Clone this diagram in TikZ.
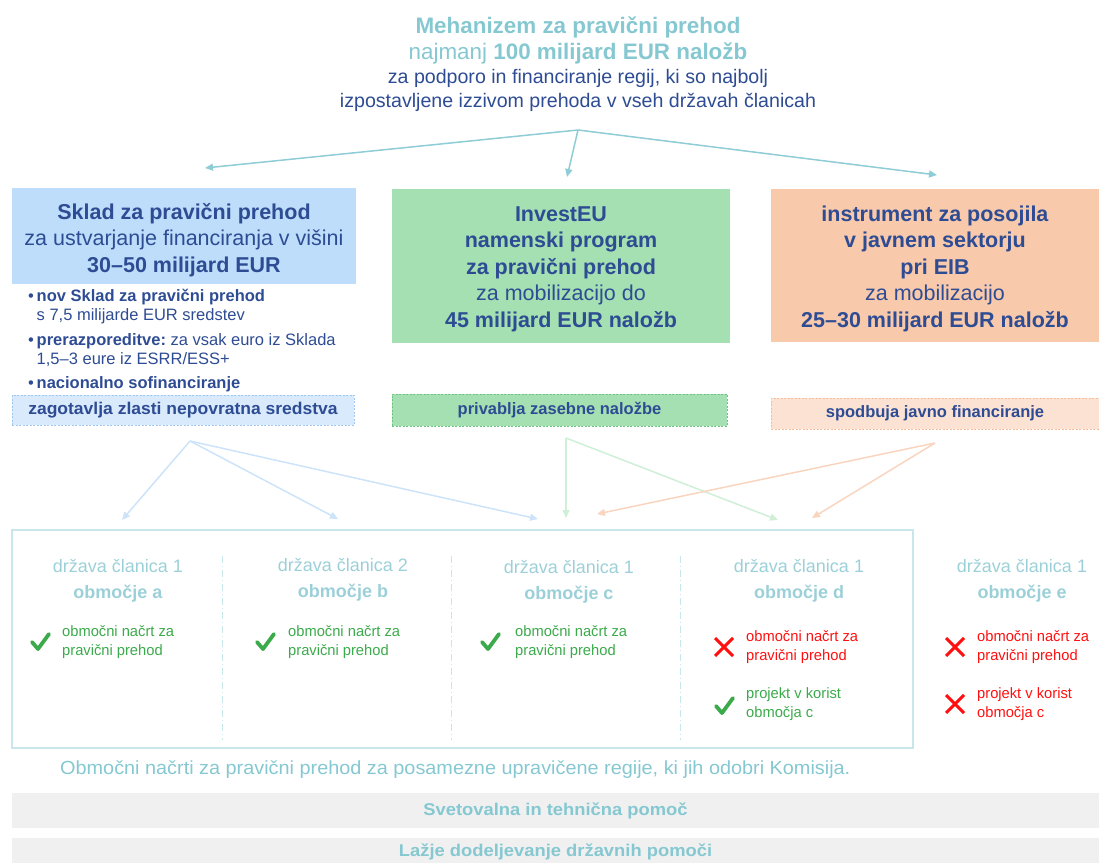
\documentclass[tikz,border=0pt]{standalone}
\usepackage{fontspec}
\setmainfont{Liberation Sans}
\usetikzlibrary{arrows.meta}
\frenchspacing
\definecolor{tealtitle}{HTML}{85C8D1}
\definecolor{teallight}{HTML}{9CD0D8}
\definecolor{framecol}{HTML}{C8E7EB}
\definecolor{darkblue}{HTML}{2E4C93}
\definecolor{boxblue}{HTML}{BEDDFB}
\definecolor{boxbluelt}{HTML}{D8EAFC}
\definecolor{boxblueln}{HTML}{9FC9F1}
\definecolor{boxgreen}{HTML}{A4E0B1}
\definecolor{boxgreenln}{HTML}{6CC480}
\definecolor{boxorange}{HTML}{F8C9AA}
\definecolor{boxorangelt}{HTML}{FCE2D3}
\definecolor{boxorangeln}{HTML}{F4BE9C}
\definecolor{arrteal}{HTML}{8ECDD5}
\definecolor{arrblue}{HTML}{CDE3FA}
\definecolor{arrgreen}{HTML}{CFEFD6}
\definecolor{arrorange}{HTML}{F9D5BF}
\definecolor{okgreen}{HTML}{3BAA4B}
\definecolor{nored}{HTML}{FF1010}
\definecolor{grayfill}{HTML}{F0F0F0}
\tikzset{
  bigbox/.style={inner sep=0pt, align=center, text=darkblue, font=\fontsize{21.5}{26.5}\selectfont},
  tagbox/.style={inner sep=0pt, dashed, dash pattern=on 2pt off 1.5pt, line width=0.8pt, text=darkblue,
     font=\fontsize{16.5}{18}\selectfont\bfseries},
  conn/.style={line width=1.5pt, -{Triangle[width=7pt,length=8pt]}},
  colhead/.style={text=teallight, align=center, font=\fontsize{18}{26}\selectfont},
  item/.style={anchor=west, align=left, inner sep=0pt, font=\fontsize{15}{18.5}\selectfont\addfontfeatures{FakeStretch=0.98}},
  bullet/.style={anchor=west, align=left, inner sep=0pt, text=darkblue, font=\fontsize{16.5}{19}\selectfont},
  sep/.style={draw=framecol, line width=1pt, dash pattern=on 7pt off 3pt on 1pt off 3pt},
  checkmk/.style={draw=okgreen, line width=3.8pt, line cap=round, line join=round},
  crossmk/.style={draw=nored, line width=3pt, line cap=butt},
  bar/.style={fill=grayfill, inner sep=0pt, text=tealtitle, font=\fontsize{17}{18}\selectfont\bfseries\addfontfeatures{FakeStretch=1.08}},
}
\begin{document}
\begin{tikzpicture}[x=1pt,y=-1pt]
\useasboundingbox (0,0) rectangle (1099,862);

% title
\node[align=center, inner sep=0pt, text=tealtitle, font=\fontsize{22.4}{25.5}\selectfont] (title) at (578,40.5)
  {\textbf{Mehanizem za pravični prehod}\\najmanj \textbf{100 milijard EUR naložb}};
\node[align=center, inner sep=0pt, text=darkblue, font=\fontsize{19.6}{24}\selectfont] (sub) at (578,90.5)
  {za podporo in financiranje regij, ki so najbolj\\izpostavljene izzivom prehoda v vseh državah članicah};

% top connectors
\coordinate (hub) at (578,130);
\coordinate (t1) at (205,168);
\coordinate (t2) at (567,177);
\coordinate (t3) at (937,175);
\draw[conn, draw=arrteal, fill=arrteal] (hub) -- (t1);
\draw[conn, draw=arrteal, fill=arrteal] (hub) -- (t2);
\draw[conn, draw=arrteal, fill=arrteal] (hub) -- (t3);

% three main boxes
\node[bigbox, fill=boxblue, minimum width=344, minimum height=96] (b1) at (184,236) {};
\node[bigbox] (b1t) at (b1.center) [yshift=-4pt]
  {\textbf{Sklad za pravični prehod}\\za ustvarjanje financiranja v višini\\\textbf{30–50 milijard EUR}};
\node[bigbox, fill=boxgreen, minimum width=338, minimum height=154] (b2) at (561,266) {};
\node[bigbox] (b2t) at (b2.center) [yshift=-3pt]
  {\textbf{InvestEU}\\\textbf{namenski program}\\\textbf{za pravični prehod}\\za mobilizacijo do\\\textbf{45 milijard EUR naložb}};
\node[bigbox, fill=boxorange, minimum width=328, minimum height=153] (b3) at (935,265.5) {};
\node[bigbox] (b3t) at (b3.center) [yshift=-3pt]
  {\textbf{instrument za posojila}\\\textbf{v javnem sektorju}\\\textbf{pri EIB}\\za mobilizacijo\\\textbf{25–30 milijard EUR naložb}};

% bullets
\node[bullet] (l1) at (28,307) {•\,\textbf{nov Sklad za pravični prehod}\\\hphantom{•\,}s 7,5 milijarde EUR sredstev};
\node[bullet] (l2) at (28,350) {•\,\textbf{prerazporeditve:} za vsak euro iz Sklada\\\hphantom{•\,}1,5–3 eure iz ESRR/ESS+};
\node[bullet] (l3) at (28,384) {•\,\textbf{nacionalno sofinanciranje}};

% tag boxes
\node[tagbox, fill=boxbluelt, draw=boxblueln, minimum width=342, minimum height=30,
  font=\fontsize{17}{18}\selectfont\bfseries\addfontfeatures{FakeStretch=1.03}] (g1) at (183,410) {zagotavlja zlasti nepovratna sredstva};
\node[tagbox, fill=boxgreen, draw=boxgreenln, minimum width=335, minimum height=32] (g2) at (559.5,410) {privablja zasebne naložbe};
\node[tagbox, fill=boxorangelt, draw=boxorangeln, minimum width=328, minimum height=31] (g3) at (935,413.5) {spodbuja javno financiranje};

% lower connectors
\coordinate (s1) at (190,441);
\coordinate (s2) at (566,438);
\coordinate (s3) at (935,443);
\coordinate (e1) at (122,520);
\coordinate (e2) at (338,519);
\coordinate (e3) at (538,519);
\coordinate (e4) at (566,518);
\coordinate (e5) at (778,520);
\coordinate (e6) at (597,514);
\coordinate (e7) at (812,518);
\draw[conn, draw=arrblue, fill=arrblue] (s1) -- (e1);
\draw[conn, draw=arrblue, fill=arrblue] (s1) -- (e2);
\draw[conn, draw=arrblue, fill=arrblue] (s1) -- (e3);
\draw[conn, draw=arrgreen, fill=arrgreen] (s2) -- (e4);
\draw[conn, draw=arrgreen, fill=arrgreen] (s2) -- (e5);
\draw[conn, draw=arrorange, fill=arrorange] (s3) -- (e6);
\draw[conn, draw=arrorange, fill=arrorange] (s3) -- (e7);

% frame
\node[draw=framecol, line width=1.6pt, minimum width=901, minimum height=218, inner sep=0pt] (frame) at (462.5,639) {};
\draw[sep] (222,556) -- (222,740);
\draw[sep] (451,556) -- (451,740);
\draw[sep] (680,556) -- (680,740);

% columns
\node[colhead] (ca) at (118,581) {država članica 1\\\textbf{območje a}};
\node[colhead] (cb) at (343,580) {država članica 2\\\textbf{območje b}};
\node[colhead] (cc) at (569,582) {država članica 1\\\textbf{območje c}};
\node[colhead] (cd) at (799,581) {država članica 1\\\textbf{območje d}};
\node[colhead] (ce) at (1022,581) {država članica 1\\\textbf{območje e}};

% items
\path[checkmk] (32,642) -- (38,649) -- (49,634);
\node[item, text=okgreen] (ia) at (62,642) {območni načrt za\\pravični prehod};
\path[checkmk] (257,642) -- (263,649) -- (274,634);
\node[item, text=okgreen] (ib) at (288,642) {območni načrt za\\pravični prehod};
\path[checkmk] (482,642) -- (488,649) -- (499,634);
\node[item, text=okgreen] (ic) at (515,642) {območni načrt za\\pravični prehod};

\path[crossmk] (715,638) -- (733,656) (733,638) -- (715,656);
\node[item, text=nored] (id1) at (746,647) {območni načrt za\\pravični prehod};
\path[checkmk] (716,706) -- (722,713) -- (733,698);
\node[item, text=okgreen] (id2) at (746,704) {projekt v korist\\območja c};

\path[crossmk] (946,638) -- (964,656) (964,638) -- (946,656);
\node[item, text=nored] (ie1) at (977,647) {območni načrt za\\pravični prehod};
\path[crossmk] (946,695) -- (964,713) (964,695) -- (946,713);
\node[item, text=nored] (ie2) at (977,704) {projekt v korist\\območja c};

% note
\node[anchor=west, inner sep=0pt, text=tealtitle, font=\fontsize{19}{20}\selectfont\addfontfeatures{FakeStretch=1.045}] (note) at (60,770)
  {Območni načrti za pravični prehod za posamezne upravičene regije, ki jih odobri Komisija.};

% bars
\node[bar, minimum width=1087, minimum height=35] (bar1) at (555.5,810.5) {Svetovalna in tehnična pomoč};
\node[bar, minimum width=1087, minimum height=28] (bar2) at (555.5,852) {Lažje dodeljevanje državnih pomoči};
\end{tikzpicture}
\end{document}
